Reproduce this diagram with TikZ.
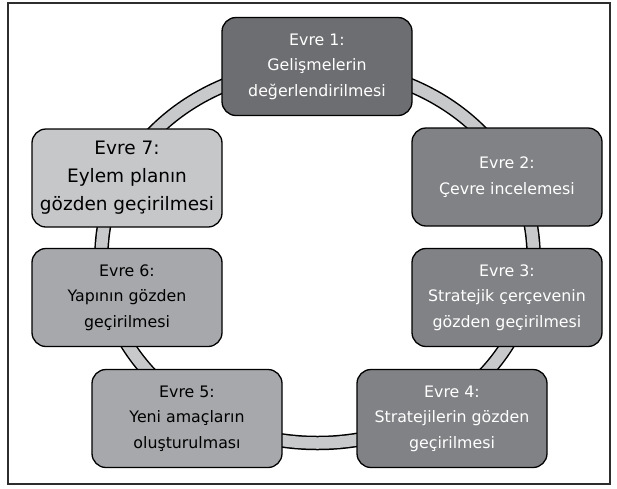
\documentclass[tikz,border=0pt]{standalone}
\usepackage{fontspec}
\setmainfont{DejaVu Sans}
\usepackage{tikz}
\usetikzlibrary{positioning}
\usepackage{xcolor}
\definecolor{ringgray}{RGB}{200,201,203}
\definecolor{evredark}{RGB}{109,110,113}
\definecolor{evremid}{RGB}{129,130,133}
\definecolor{evrelight}{RGB}{166,168,171}
\definecolor{evrepale}{RGB}{198,199,201}
\definecolor{framegray}{RGB}{45,45,45}

\begin{document}
\begin{tikzpicture}[x=1pt, y=-1pt,
	evre/.style={draw=black, line width=1.3pt, rounded corners=14pt, minimum width=190pt, minimum height=98pt, inner sep=0pt, align=center, font=\fontsize{15.8}{25.5}\selectfont},
	]
				    		\useasboundingbox (0, 0) rectangle (617, 488);
				    		\draw[framegray, line width=2pt] (7.5, 3) rectangle (610, 484);
				    		\coordinate (hub) at (317.5, 255);
				    		\draw[black, line width=14.5pt] (hub) ellipse [x radius=216, y radius=188];
				    		\draw[ringgray, line width=11.5pt] (hub) ellipse [x radius=216, y radius=188];
				    		\node[evre, fill=evredark, text=white] (e1) at (317, 66.5) {Evre 1:\\Gelişmelerin\\değerlendirilmesi};
				    		\node[evre, fill=evremid, text=white] (e2) at (507, 177) {Evre 2:\\Çevre incelemesi};
				    		\node[evre, fill=evremid, text=white] (e3) at (507, 297.5) {Evre 3:\\Stratejik çerçevenin\\gözden geçirilmesi};
				    		\node[evre, fill=evremid, text=white] (e4) at (452, 418.5) {Evre 4:\\Stratejilerin gözden\\geçirilmesi};
				    		\node[evre, fill=evrelight] (e5) at (187, 418.5) {Evre 5:\\Yeni amaçların\\oluşturulması};
				    		\node[evre, fill=evrelight] (e6) at (127, 297.5) {Evre 6:\\Yapının gözden\\geçirilmesi};
				    		\node[evre, fill=evrepale, font=\fontsize{18.5}{28}\selectfont] (e7) at (127, 178) {Evre 7:\\Eylem planın\\gözden geçirilmesi};
				    	\end{tikzpicture}
\end{document}
